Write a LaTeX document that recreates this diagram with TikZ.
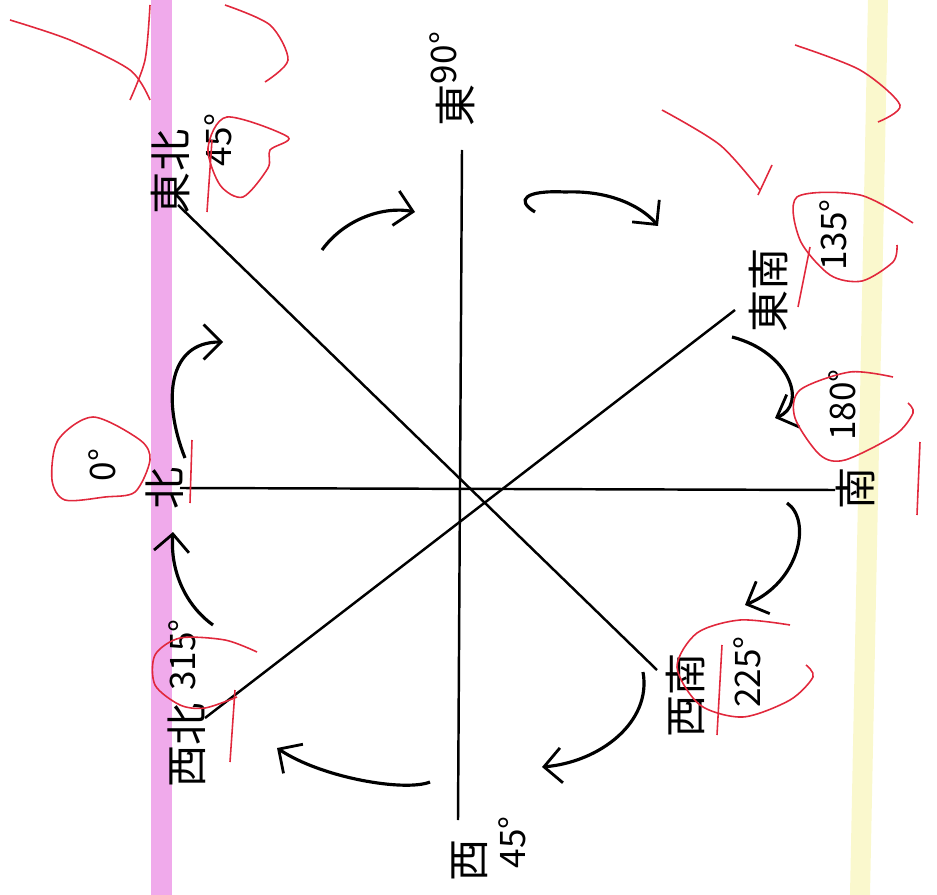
\documentclass[tikz,border=0pt]{standalone}
\usepackage{fontspec}
\newfontfamily\cjk{Noto Sans CJK JP}
\usetikzlibrary{arrows.meta}

\definecolor{penred}{RGB}{225,40,60}
\definecolor{hlpink}{RGB}{240,170,235}
\definecolor{hlyellow}{RGB}{250,248,205}

\tikzset{
  axis/.style={line width=1.4pt},
  turn/.style={line width=1.8pt, -{Straight Barb[length=3.5mm,width=7mm,line width=1.6pt]}},
  dirlabel/.style={rotate=90, font=\cjk\fontsize{24}{24}\selectfont, inner sep=1pt},
  deglabel/.style={rotate=90, font=\cjk\fontsize{20}{20}\selectfont, inner sep=1pt},
  redpen/.style={draw=penred, line width=0.9pt}
}

\begin{document}
\begin{tikzpicture}[x=0.02cm, y=-0.02cm]
  \useasboundingbox (0,0) rectangle (937,895);

  % highlighter bands
  \fill[hlpink] (151,0) rectangle (172,895);
  \fill[hlyellow] (868,0) -- (888,0) -- (870,895) -- (850,895) -- cycle;

  % ends of the axes
  \coordinate (eEnd) at (462,150);
  \coordinate (wEnd) at (458,820);
  \coordinate (nEnd) at (180,488);
  \coordinate (sEnd) at (835,490);
  \coordinate (neEnd) at (178,205);
  \coordinate (swEnd) at (657,670);
  \coordinate (nwEnd) at (205,718);
  \coordinate (seEnd) at (735,310);

  \draw[axis] (eEnd) -- (wEnd);
  \draw[axis] (nEnd) -- (sEnd);
  \draw[axis] (neEnd) -- (swEnd);
  \draw[axis] (nwEnd) -- (seEnd);

  % direction names
  \node[dirlabel] (dirE) at (455,105) {東};
  \node[dirlabel] (dirNE) at (170,172) {東北};
  \node[dirlabel] (dirSE) at (768,290) {東南};
  \node[dirlabel] (dirS) at (855,488) {南};
  \node[dirlabel] (dirSW) at (685,695) {西南};
  \node[dirlabel] (dirW) at (470,860) {西};
  \node[dirlabel] (dirNW) at (187,745) {西北};
  \node[dirlabel] (dirN) at (165,488) {北};

  % degrees
  \node[deglabel] (degE) at (443,58) {90°};
  \node[deglabel] (degNE) at (218,140) {45°};
  \node[deglabel] (degSE) at (833,235) {135°};
  \node[deglabel] (degS) at (842,405) {180°};
  \node[deglabel] (degSW) at (747,672) {225°};
  \node[deglabel] (degW) at (512,842) {45°};
  \node[deglabel] (degNW) at (182,655) {315°};
  \node[deglabel] (degN) at (102,465) {0°};

  % turning arrows
  \draw[turn] (322,250) .. controls (345,218) and (385,206) .. (415,212);
  \draw[turn] (535,212) .. controls (515,200) and (525,190) .. (565,192)
    .. controls (615,190) and (645,210) .. (658,226);
  \draw[turn] (732,337) .. controls (790,352) and (808,405) .. (775,418);
  \draw[turn] (787,503) .. controls (812,520) and (800,582) .. (745,605);
  \draw[turn] (643,672) .. controls (652,722) and (600,762) .. (542,767);
  \draw[turn] (430,782) .. controls (405,792) and (322,778) .. (277,748);
  \draw[turn] (213,625) .. controls (185,605) and (170,570) .. (173,532);
  \draw[turn] (185,458) .. controls (162,400) and (168,342) .. (223,342);

  % red pen marks
  \draw[redpen] plot[smooth cycle] coordinates {(288,137) (227,117) (208,148) (220,185) (243,197) (268,168) (270,150)};
  \draw[redpen] (212,140) -- (207,212);
  \draw[redpen] plot[smooth] coordinates {(913,223) (860,195) (797,197) (800,240) (830,275) (862,281) (893,262) (897,245)};
  \draw[redpen] (810,247) -- (798,307);
  \draw[redpen] plot[smooth] coordinates {(893,377) (850,372) (800,390) (795,418) (820,455) (845,460) (895,435) (913,413) (908,403)};
  \draw[redpen] (920,442) -- (917,515);
  \draw[redpen] plot[smooth] coordinates {(790,625) (740,620) (697,633) (677,667) (700,705) (743,717) (790,700) (813,677) (806,665)};
  \draw[redpen] (722,645) -- (717,735);
  \draw[redpen] plot[smooth] coordinates {(257,652) (225,640) (180,638) (155,655) (155,685) (180,705) (205,708) (237,697)};
  \draw[redpen] (235,690) -- (230,762);
  \draw[redpen] plot[smooth cycle] coordinates {(93,417) (58,440) (52,480) (65,500) (105,497) (135,492) (150,460) (140,440)};
  \draw[redpen] (192,440) -- (190,503);
  \draw[redpen] plot[smooth] coordinates {(10,20) (70,40) (130,70) (150,100)};
  \draw[redpen] plot[smooth] coordinates {(150,5) (145,60) (130,100)};
  \draw[redpen] plot[smooth] coordinates {(225,5) (270,25) (288,60) (265,82)};
  \draw[redpen] plot[smooth] coordinates {(795,45) (860,70) (900,105) (878,122)};
  \draw[redpen] plot[smooth] coordinates {(662,110) (720,145) (760,190)};
  \draw[redpen] (772,165) -- (758,195);
\end{tikzpicture}
\end{document}
